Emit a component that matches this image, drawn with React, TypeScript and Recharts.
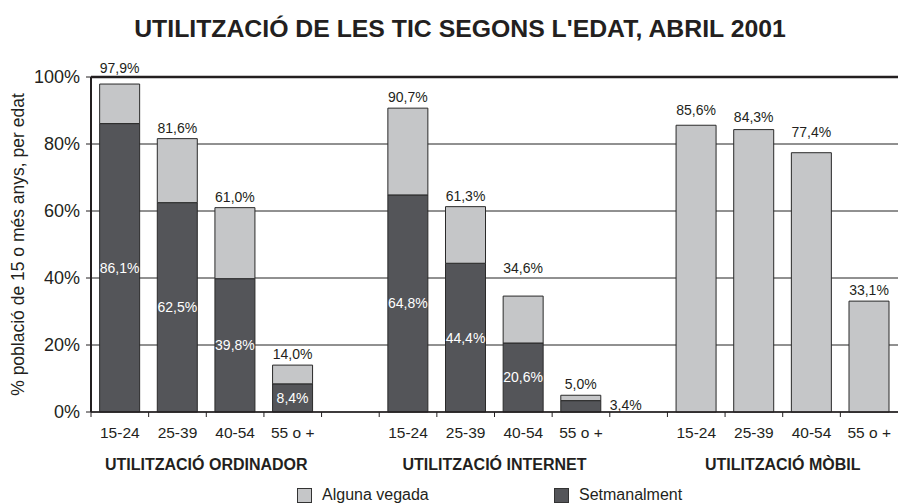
import React from "react";
import {
  BarChart,
  Bar,
  XAxis,
  YAxis,
  CartesianGrid,
  Legend,
  LabelList,
  ReferenceLine,
} from "recharts";

const FONT = '"Liberation Sans", Arial, Helvetica, sans-serif';
const INK = "#231f20";
const LIGHT = "#c5c6c8";
const DARK = "#545559";

// 14 slots: 4 age bands per group, with an empty slot between groups
const ageBands = [
  "15-24", "25-39", "40-54", "55 o +", "",
  "15-24", "25-39", "40-54", "55 o +", "",
  "15-24", "25-39", "40-54", "55 o +",
];
const groupNames = ["UTILITZACIÓ ORDINADOR", "UTILITZACIÓ INTERNET", "UTILITZACIÓ MÒBIL"];

// "Alguna vegada" (total) and "Setmanalment" (weekly), %
const totalValues = [97.9, 81.6, 61.0, 14.0, null, 90.7, 61.3, 34.6, 5.0, null, 85.6, 84.3, 77.4, 33.1];
const weeklyValues = [86.1, 62.5, 39.8, 8.4, null, 64.8, 44.4, 20.6, 3.4, null, null, null, null, null];

// extra lift (px) of the total labels, as placed in the original
const labelLift = [5, 0, 0, 0, 0, 0, 0, 17, 0, 0, 4, 2, 10, 0];

const data = ageBands.map((name, i) => {
  const total = totalValues[i];
  const weekly = weeklyValues[i];
  return {
    name,
    total,
    weekly,
    rest: total == null ? null : total - (weekly ?? 0),
  };
});

const fmt = (v: number) => v.toFixed(1).replace(".", ",") + "%";

function AgeTick(props: any) {
  const { x, y, payload, index } = props;
  const half = payload?.offset ?? 28.8;
  const showGroup = index % 5 === 1;
  return (
    <g>
      <line x1={x - half} y1={y} x2={x - half} y2={y + 5} stroke={INK} strokeWidth={1} />
      <text x={x} y={y + 26} textAnchor="middle" fontSize={15.5} fill={INK} fontFamily={FONT}>
        {payload.value}
      </text>
      {showGroup && (
        <text
          x={x + half}
          y={y + 58}
          textAnchor="middle"
          fontSize={16}
          fontWeight="bold"
          fill={INK}
          fontFamily={FONT}
        >
          {groupNames[Math.floor(index / 5)]}
        </text>
      )}
    </g>
  );
}

function WeeklyLabel(props: any) {
  const { x, y, width, height, value } = props;
  if (value == null) return null;
  if (height < 15) {
    // too thin: put the figure beside the bar
    return (
      <text x={x + width + 9} y={y + height - 2} fontSize={14} fill={INK} fontFamily={FONT}>
        {fmt(value)}
      </text>
    );
  }
  return (
    <text
      x={x + width / 2}
      y={y + height / 2 + 5}
      textAnchor="middle"
      fontSize={14}
      fill="#ffffff"
      fontFamily={FONT}
    >
      {fmt(value)}
    </text>
  );
}

function TotalLabel(props: any) {
  const { x, y, width, value } = props;
  if (value == null) return null;
  // LabelList skips the empty slots, so look the slot up by its value
  const lift = labelLift[totalValues.indexOf(value)] ?? 0;
  return (
    <text
      x={x + width / 2}
      y={y - 6 - lift}
      textAnchor="middle"
      fontSize={14}
      fill={INK}
      fontFamily={FONT}
    >
      {fmt(value)}
    </text>
  );
}

function LegendBox() {
  const item = (left: number, color: string, label: string) => (
    <div style={{ position: "absolute", left, top: 13, display: "flex", alignItems: "center" }}>
      <span
        style={{
          width: 15,
          height: 15,
          background: color,
          border: "1.5px solid #333",
          boxSizing: "border-box",
          display: "inline-block",
        }}
      />
      <span style={{ marginLeft: 10, fontSize: 16, color: INK, fontFamily: FONT, lineHeight: "16px" }}>
        {label}
      </span>
    </div>
  );
  return (
    <div style={{ position: "relative", height: 30, width: 899 }}>
      {item(297, LIGHT, "Alguna vegada")}
      {item(554, DARK, "Setmanalment")}
    </div>
  );
}

function YLabel(props: any) {
  const vb = props.viewBox || {};
  const cy = (vb.y ?? 77) + (vb.height ?? 335) / 2;
  const cx = 18;
  return (
    <text
      x={cx}
      y={cy}
      transform={`rotate(-90, ${cx}, ${cy})`}
      textAnchor="middle"
      dominantBaseline="central"
      fontSize={17.5}
      fill={INK}
      fontFamily={FONT}
    >
      % població de 15 o més anys, per edat
    </text>
  );
}

export default function App() {
  return (
    <div style={{ position: "absolute", left: 0, top: 0, width: 899, height: 504, background: "#fff" }}>
      <div
        style={{
          position: "absolute",
          left: 0,
          top: 16,
          width: 920,
          textAlign: "center",
          fontFamily: FONT,
          fontWeight: "bold",
          fontSize: 24.8,
          lineHeight: "25px",
          color: INK,
        }}
      >
        UTILITZACIÓ DE LES TIC SEGONS L'EDAT, ABRIL 2001
      </div>
      <BarChart
        width={899}
        height={504}
        data={data}
        margin={{ top: 77, right: 1, bottom: 0, left: 0 }}
        barCategoryGap="15%"
        style={{ fontFamily: FONT }}
      >
        <CartesianGrid vertical={false} stroke="#222" strokeWidth={1} />
        <XAxis
          dataKey="name"
          interval={0}
          tickLine={false}
          tickSize={0}
          tickMargin={0}
          height={62}
          axisLine={{ stroke: INK, strokeWidth: 1.5 }}
          tick={<AgeTick />}
        />
        <YAxis
          width={91}
          domain={[0, 100]}
          ticks={[0, 20, 40, 60, 80, 100]}
          tickFormatter={(v: number) => v + "%"}
          tickSize={5}
          tickMargin={6}
          tick={{ fontSize: 18, fill: INK, fontFamily: FONT }}
          tickLine={{ stroke: INK }}
          axisLine={{ stroke: INK, strokeWidth: 2 }}
          label={{ content: <YLabel /> }}
        />
        <ReferenceLine y={100} stroke={INK} strokeWidth={2.5} />
        <Legend verticalAlign="bottom" height={30} wrapperStyle={{ left: 0, width: 899 }} content={<LegendBox />} />
        <Bar
          dataKey="weekly"
          stackId="a"
          name="Setmanalment"
          fill={DARK}
          stroke="#2a2a2a"
          strokeWidth={1}
          isAnimationActive={false}
        >
          <LabelList dataKey="weekly" content={<WeeklyLabel />} />
        </Bar>
        <Bar
          dataKey="rest"
          stackId="a"
          name="Alguna vegada"
          fill={LIGHT}
          stroke="#2a2a2a"
          strokeWidth={1}
          isAnimationActive={false}
        >
          <LabelList dataKey="total" content={<TotalLabel />} />
        </Bar>
      </BarChart>
    </div>
  );
}
